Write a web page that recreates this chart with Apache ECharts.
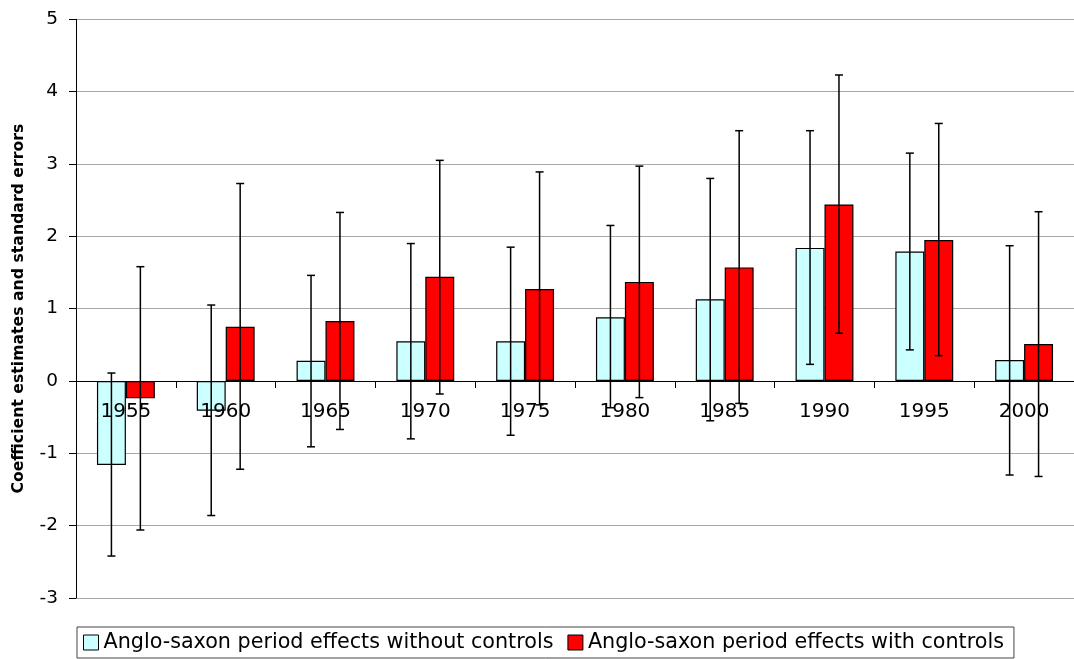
<!DOCTYPE html>
<html>
<head>
<meta charset="utf-8">
<script src="https://cdn.jsdelivr.net/npm/echarts@6/dist/echarts.min.js"></script>
<style>
html,body{margin:0;padding:0;background:#fff;}
#chart{width:1074px;height:659px;}
</style>
</head>
<body>
<div id="chart"></div>
<script>
var categories = ['1955','1960','1965','1970','1975','1980','1985','1990','1995','2000'];
var noCtrl     = [-1.16, -0.41, 0.28, 0.55, 0.55, 0.88, 1.13, 1.84, 1.79, 0.29];
var noCtrlLow  = [-2.42, -1.86, -0.91, -0.80, -0.75, -0.37, -0.55, 0.23, 0.43, -1.30];
var noCtrlHigh = [0.11, 1.05, 1.46, 1.90, 1.85, 2.15, 2.80, 3.46, 3.15, 1.87];
var withCtrl     = [-0.24, 0.75, 0.83, 1.44, 1.27, 1.37, 1.57, 2.44, 1.95, 0.51];
var withCtrlLow  = [-2.06, -1.22, -0.67, -0.18, -0.33, -0.23, -0.31, 0.66, 0.35, -1.32];
var withCtrlHigh = [1.58, 2.73, 2.33, 3.05, 2.89, 2.97, 3.46, 4.23, 3.56, 2.34];
var yTicks = {min: -3, max: 5, interval: 1};
var seriesNames = ['Anglo-saxon period effects without controls', 'Anglo-saxon period effects with controls'];

var FONT = 'DejaVu Sans';
var BAR_FRAC = 0.29;
var GRID_TOP = 19.3, GRID_BOTTOM = 61, H = 659;
var plotH = H - GRID_TOP - GRID_BOTTOM;
// distance from the bottom of the grid up to the value 0
var zeroOffset = plotH * (0 - yTicks.min) / (yTicks.max - yTicks.min);

function errData(low, high) {
  return low.map(function (l, i) { return [i, l, high[i]]; });
}
function makeErrRender(offsetSign) {
  return function (params, api) {
    var idx = api.value(0);
    var pLow = api.coord([idx, api.value(1)]);
    var pHigh = api.coord([idx, api.value(2)]);
    var band = api.size([1, 0])[0];
    var x = pLow[0] + offsetSign * band * BAR_FRAC / 2;
    var half = 4;
    var st = {stroke: '#000', lineWidth: 1.5};
    return {
      type: 'group',
      children: [
        {type: 'line', shape: {x1: x, y1: pLow[1], x2: x, y2: pHigh[1]}, style: st},
        {type: 'line', shape: {x1: x - half, y1: pLow[1], x2: x + half, y2: pLow[1]}, style: st},
        {type: 'line', shape: {x1: x - half, y1: pHigh[1], x2: x + half, y2: pHigh[1]}, style: st}
      ]
    };
  };
}

var chart = echarts.init(document.getElementById('chart'));
chart.setOption({
  backgroundColor: '#fff',
  animation: false,
  textStyle: {fontFamily: FONT},
  grid: {left: 76, right: -6, top: GRID_TOP, bottom: GRID_BOTTOM},
  legend: {
    left: 77, bottom: 1,
    orient: 'horizontal',
    data: seriesNames,
    icon: 'rect',
    itemWidth: 15, itemHeight: 15,
    itemGap: 14,
    padding: [5, 10, 5, 6],
    borderColor: '#444', borderWidth: 1,
    itemStyle: {borderColor: '#000', borderWidth: 1},
    textStyle: {fontFamily: FONT, fontSize: 20.7, color: '#000'}
  },
  xAxis: {
    type: 'category',
    data: categories,
    z: 3,
    position: 'bottom',
    offset: -zeroOffset,
    axisLine: {show: true, onZero: false, lineStyle: {color: '#000', width: 1}},
    axisTick: {show: true, length: 7, lineStyle: {color: '#000'}},
    axisLabel: {fontFamily: FONT, fontSize: 20, color: '#000', margin: 21},
    splitLine: {show: false}
  },
  yAxis: {
    type: 'value',
    min: yTicks.min, max: yTicks.max, interval: yTicks.interval,
    name: 'Coefficient estimates and standard errors',
    nameLocation: 'middle',
    nameGap: 49,
    nameTextStyle: {fontFamily: FONT, fontSize: 15.7, fontWeight: 'bold', color: '#000'},
    axisLine: {show: true, lineStyle: {color: '#000', width: 1}},
    axisTick: {show: true, length: 7, lineStyle: {color: '#000'}},
    axisLabel: {fontFamily: FONT, fontSize: 18.5, color: '#000', margin: 18},
    splitLine: {show: true, lineStyle: {color: '#A8A8A8', width: 1}}
  },
  series: [
    {
      name: seriesNames[0], type: 'bar', data: noCtrl,
      barWidth: (BAR_FRAC * 100) + '%', barGap: '0%', z: 2,
      itemStyle: {color: '#CCFFFF', borderColor: '#000', borderWidth: 1.2}
    },
    {
      name: seriesNames[1], type: 'bar', data: withCtrl,
      barWidth: (BAR_FRAC * 100) + '%', barGap: '0%', z: 2,
      itemStyle: {color: '#FF0000', borderColor: '#000', borderWidth: 1.2}
    },
    {
      type: 'custom', z: 5, silent: true,
      renderItem: makeErrRender(-1),
      encode: {x: 0, y: [1, 2]},
      data: errData(noCtrlLow, noCtrlHigh)
    },
    {
      type: 'custom', z: 5, silent: true,
      renderItem: makeErrRender(1),
      encode: {x: 0, y: [1, 2]},
      data: errData(withCtrlLow, withCtrlHigh)
    }
  ]
});
</script>
</body>
</html>
